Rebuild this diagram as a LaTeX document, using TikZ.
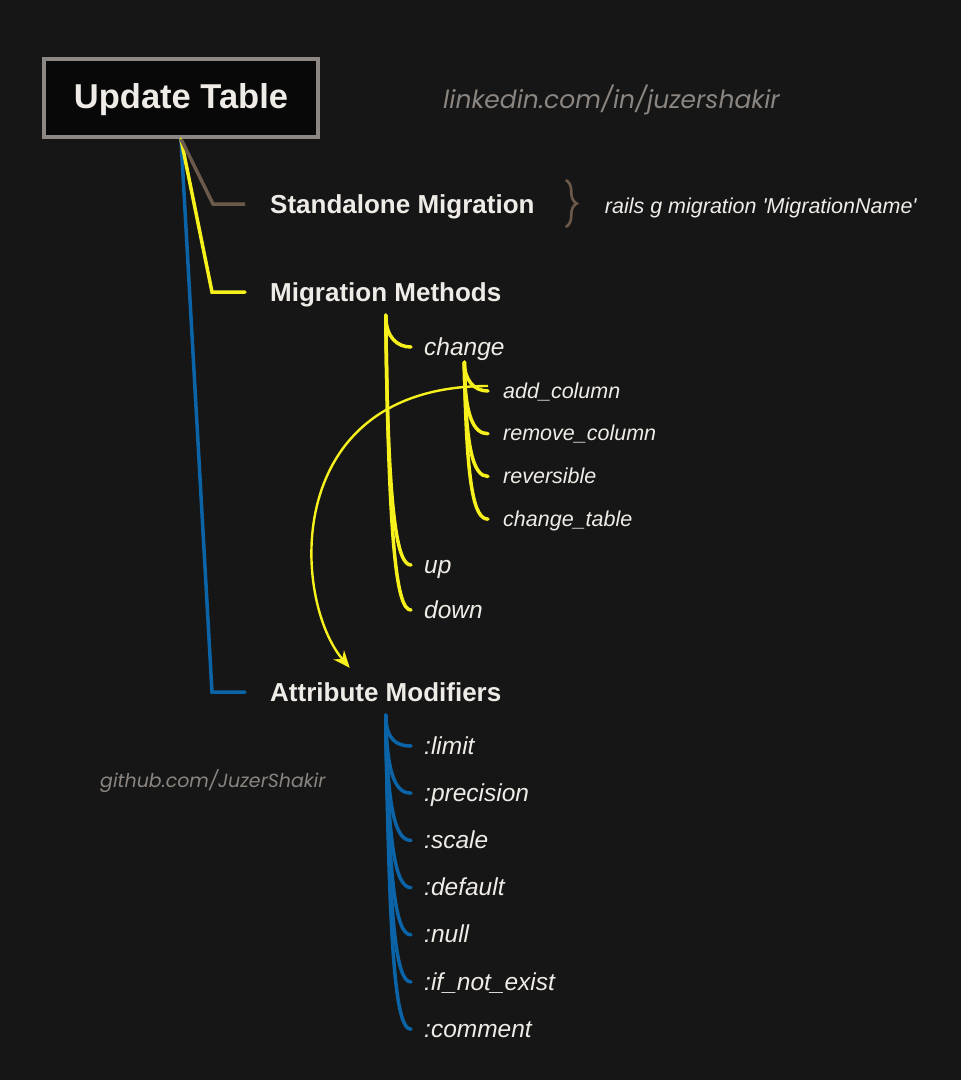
\documentclass[tikz,border=0pt]{standalone}
\usepackage{fontspec}
\setmainfont{Liberation Sans}
\newfontfamily\markfont{Poppins}
\usetikzlibrary{positioning, arrows.meta, decorations.pathreplacing}

\definecolor{boardbg}{HTML}{161616}
\definecolor{chalk}{HTML}{EFEBE6}
\definecolor{frame}{HTML}{8C8782}
\definecolor{mudbrown}{HTML}{6B5A49}
\definecolor{hiyellow}{HTML}{F6F01C}
\definecolor{inkblue}{HTML}{0B63A8}
\definecolor{markgray}{HTML}{8A8580}

\tikzset{
    titlebox/.style={draw=frame, line width=4pt, fill=black!97, text=chalk,
        font=\bfseries\fontsize{34.5}{40}\selectfont,
        minimum width=274pt, minimum height=78pt, text height=24.5pt, text depth=3pt},
    head/.style={anchor=base west, inner sep=0pt, text=chalk,
        font=\bfseries\fontsize{26}{30}\selectfont, text height=18pt, text depth=0pt},
    item/.style={anchor=base west, inner sep=0pt, text=chalk,
        font=\itshape\fontsize{24.5}{28}\selectfont, text height=16pt, text depth=0pt},
    subitem/.style={anchor=base west, inner sep=0pt, text=chalk,
        font=\itshape\fontsize{21.5}{25}\selectfont, text height=14pt, text depth=0pt},
    cmdtext/.style={anchor=base west, inner sep=0pt, text=chalk,
        font=\itshape\fontsize{21.5}{25}\selectfont},
    watermark/.style={anchor=base west, inner sep=0pt, text=markgray,
        font=\markfont\itshape\fontsize{25}{29}\selectfont},
    brownline/.style={draw=mudbrown, line width=3.5pt},
    yline/.style={draw=hiyellow, line width=3.5pt, line cap=round},
    bline/.style={draw=inkblue, line width=3.5pt, line cap=round},
    bracket/.style={draw=mudbrown, line width=2.6pt, decorate,
        decoration={brace, amplitude=11pt}},
}

\begin{document}
\begin{tikzpicture}[x=1pt, y=-1pt]
    \fill[boardbg] (0,0) rectangle (961,1080);
    \useasboundingbox (0,0) rectangle (961,1080);

    % title and watermarks
    \node[titlebox] (upd) at (181,98) {Update Table};
    \node[watermark] (lnk) at (443,108) {linkedin.com/in/juzershakir};
    \node[watermark, font=\markfont\itshape\fontsize{19}{23}\selectfont] (gh) at (100,787) {github.com/JuzerShakir};

    % first level
    \node[head] (sm) at (270,213) {Standalone Migration};
    \node[cmdtext, right=70pt of sm.base east, anchor=base west] (cmd) {rails g migration \textquotesingle MigrationName\textquotesingle};
    \node[head] (mm) at (270,301) {Migration Methods};
    \node[head] (am) at (270,701) {Attribute Modifiers};

    \draw[bracket] ([xshift=31pt,yshift=24pt]sm.east) -- ([xshift=31pt,yshift=-23pt]sm.east);

    \draw[bline] (upd.south) -- ([xshift=-58pt]am.west) -- ([xshift=-25pt]am.west);
    \draw[yline] (upd.south) -- ([xshift=-58pt]mm.west) -- ([xshift=-25pt]mm.west);
    \draw[brownline] (upd.south) -- ([xshift=-57pt]sm.west) -- ([xshift=-25pt]sm.west);

    % migration methods
    \node[item] (chg) at (424,355) {change};
    \node[item] (up) at (424,573) {up};
    \node[item, below=45pt of up.base west, anchor=base west] (down) {down};
    \foreach \name/\txt [count=\i] in {add/add\_column, rem/remove\_column, rev/reversible, ctab/change\_table}
        \node[subitem] (\name) at (503,{398+42.7*(\i-1)}) {\txt};

    \coordinate (mtop) at ([yshift=-14pt]mm.south);
    \coordinate (ctop) at ([yshift=-7pt]chg.south);
    \draw[yline] (mtop) .. controls +(0,22) and +(-14,0) .. ([xshift=-13pt]chg.west);
    \draw[yline] (mtop) .. controls +(2,200) and +(-14,0) .. ([xshift=-13pt]up.west);
    \draw[yline] (mtop) .. controls +(3,236) and +(-14,0) .. ([xshift=-13pt]down.west);
    \draw[yline] (ctop) .. controls +(0,18) and +(-14,0) .. ([xshift=-15pt]add.west);
    \draw[yline] (ctop) .. controls +(0,55) and +(-14,0) .. ([xshift=-15pt]rem.west);
    \draw[yline] (ctop) .. controls +(1,90) and +(-14,0) .. ([xshift=-15pt]rev.west);
    \draw[yline] (ctop) .. controls +(2,125) and +(-14,0) .. ([xshift=-15pt]ctab.west);

    % the arrow over to the modifiers
    \coordinate (arcfrom) at ([xshift=-15pt,yshift=5pt]add.west);
    \coordinate (arcto) at ([xshift=-36pt,yshift=15pt]am.north);
    \draw[hiyellow, line width=2.4pt, -{Stealth[length=17pt,width=14pt]}]
        (arcfrom) .. controls +(-208,0) and +(-58,-68) .. (arcto);

    % attribute modifiers
    \coordinate (atop) at ([yshift=-14pt]am.south);
    \foreach \txt [count=\i] in {:limit, :precision, :scale, :default, :null, :if\_not\_exist, :comment}{
        \node[item] (attr\i) at (424,{754+47.2*(\i-1)}) {\txt};
        \draw[bline] (atop) .. controls +({0.5*\i},{0.78*(31+47.2*(\i-1))}) and +(-15,0) .. ([xshift=-13pt]attr\i.west);
    }
\end{tikzpicture}
\end{document}
